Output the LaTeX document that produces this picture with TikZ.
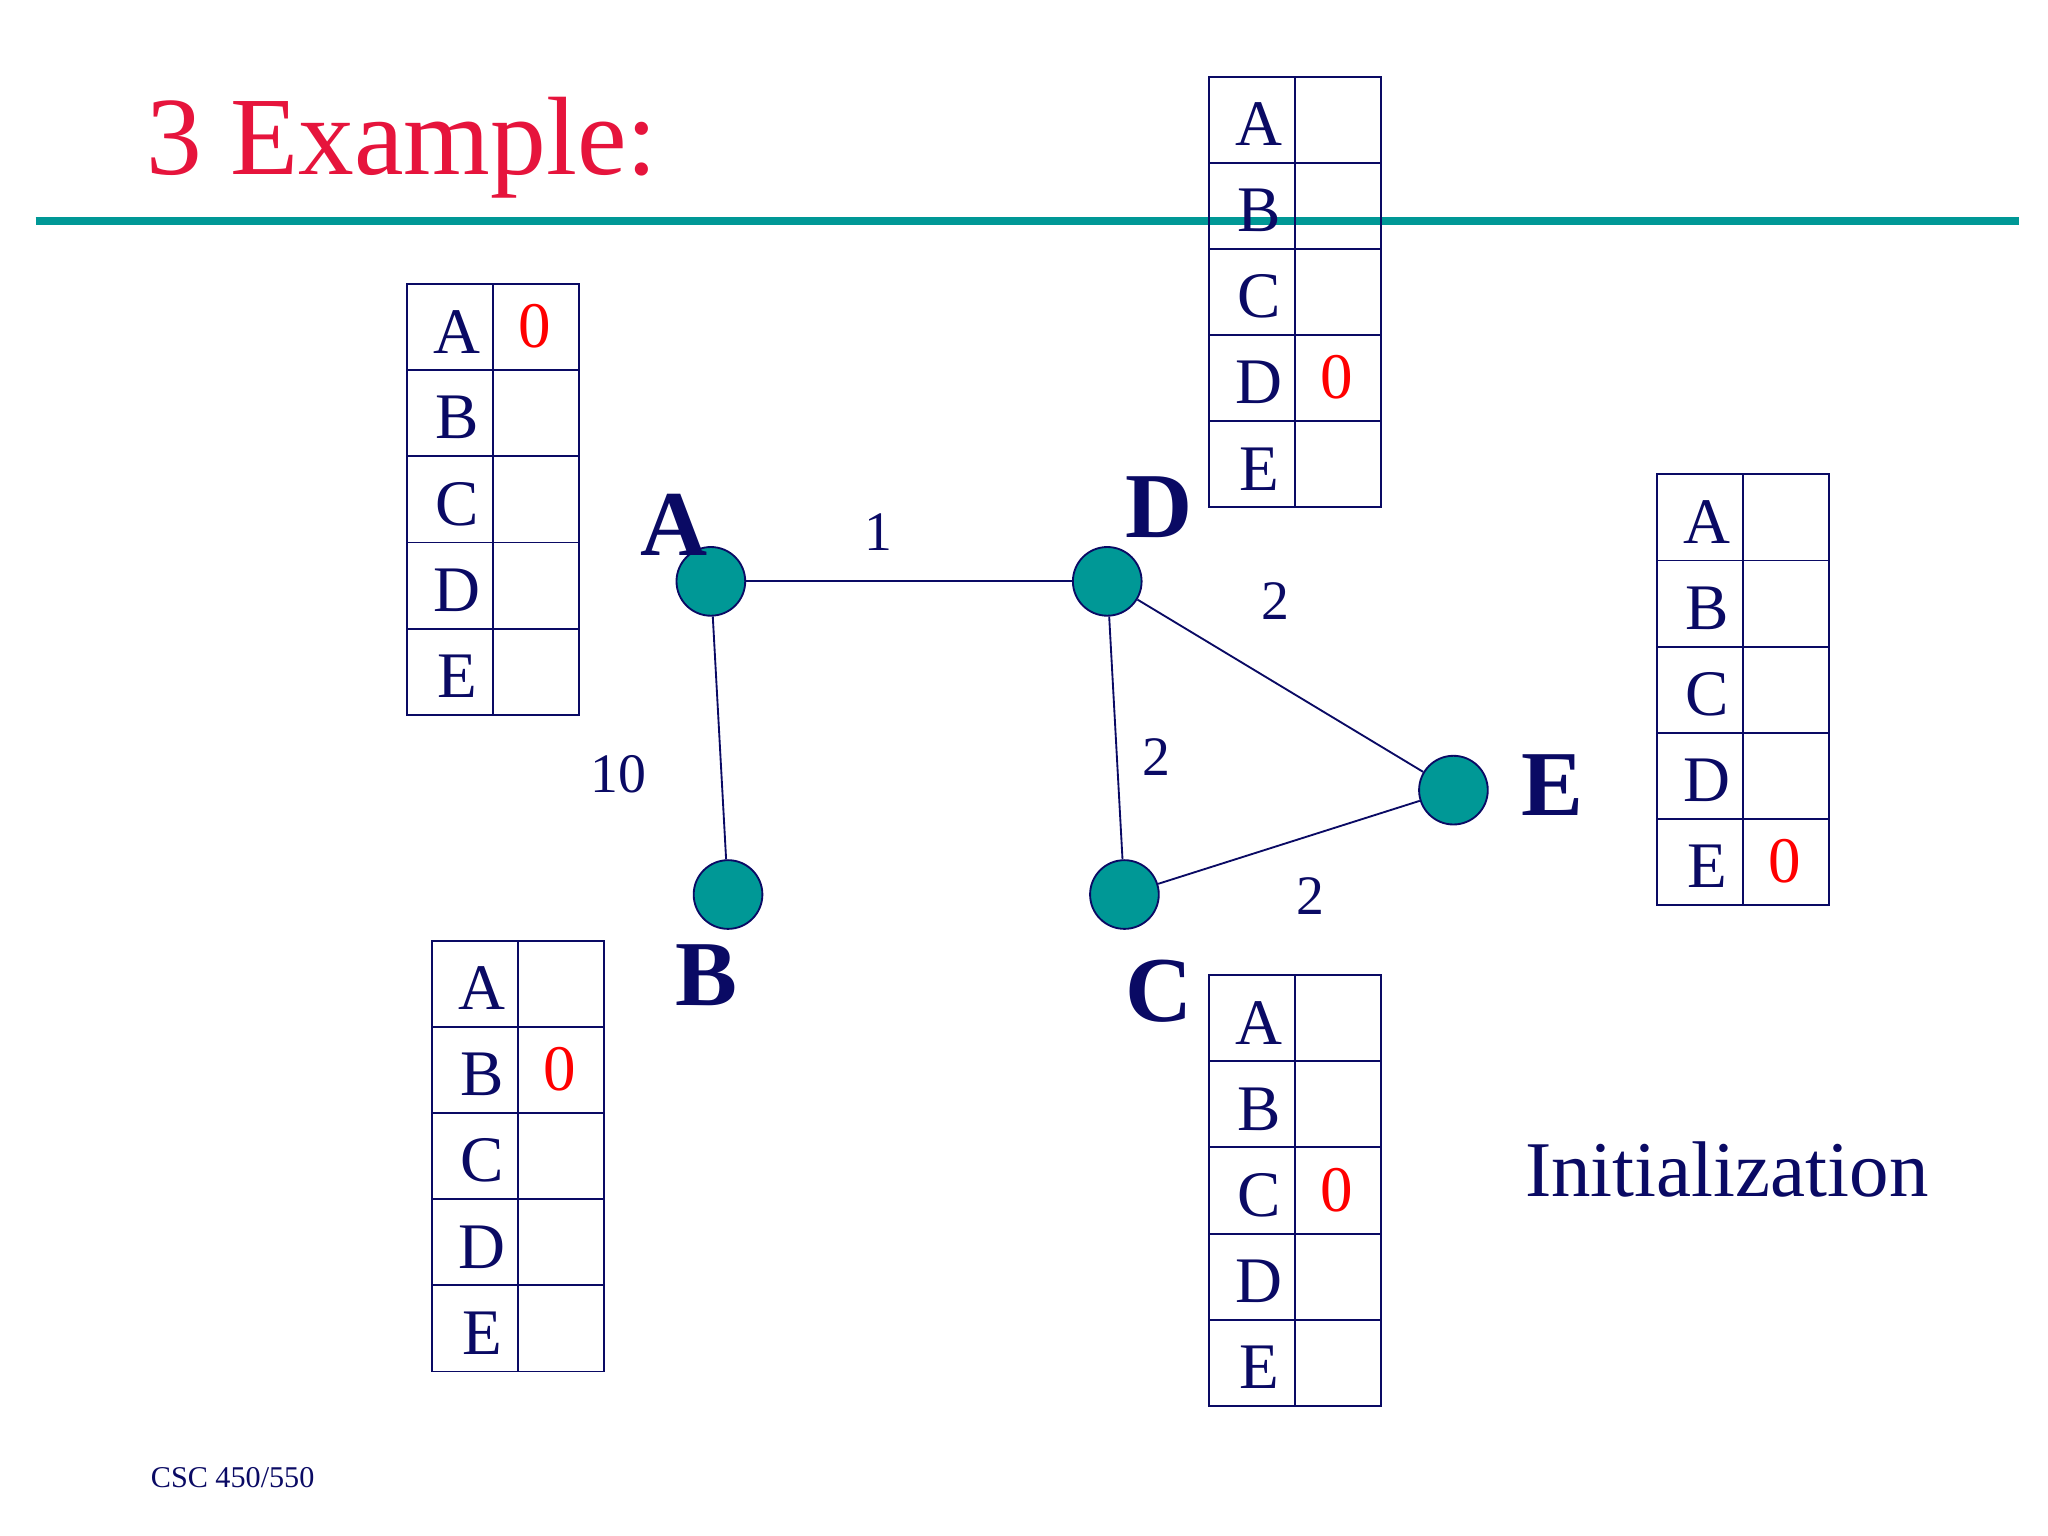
\documentclass[tikz,border=0pt]{standalone}
\usepackage{fontspec}
\setmainfont{Liberation Serif}
\definecolor{navy}{RGB}{10,10,100}
\definecolor{tealnode}{RGB}{0,152,150}
\definecolor{titlered}{RGB}{230,20,60}
\tikzset{
  vert/.style={circle,draw=navy,fill=tealnode,minimum size=52*0.02cm,inner sep=0pt,line width=0.8pt},
  vlabel/.style={text=navy,font=\fontsize{40}{40}\selectfont\bfseries},
  wlabel/.style={text=navy,font=\fontsize{24}{24}\selectfont},
  cell/.style={text=navy,font=\fontsize{28}{28}\selectfont},
  zero/.style={text=red,font=\fontsize{28}{28}\selectfont},
}
% routing table: name, left x, top y, row of the zero
\newcommand{\rtable}[4]{%
  \draw[navy,line width=0.8pt] (#2,#3) rectangle ++(130,326);
  \draw[navy,line width=0.8pt] (#2+65,#3) -- ++(0,326);
  \foreach \r [count=\i from 0] in {A,B,C,D,E}{
    \ifnum\i>0 \draw[navy,line width=0.8pt] (#2,#3+65.2*\i) -- ++(130,0);\fi
    \node[cell] (#1_\r) at (#2+38,#3+65.2*\i+36) {\r};
  }
  \node[zero] (#1_zero) at (#2+97,#3+65.2*#4+32) {0};
}
\begin{document}
\begin{tikzpicture}[x=0.02cm,y=-0.02cm]
\useasboundingbox (0,0) rectangle (1550,1162);
%%
\node[text=titlered,font=\fontsize{48}{48}\selectfont,anchor=west] (title) at (105,112) {3 Example:};
\draw[tealnode,line width=3.5pt] (27,167) -- (1528,167);
%
\rtable{tab_a}{308}{215}{0}
\rtable{tab_b}{327}{712}{1}
\rtable{tab_d}{915}{58}{3}
\rtable{tab_e}{1254}{359}{4}
\rtable{tab_c}{915}{738}{2}
%
\node[vert] (node_a) at (538,440) {};
\node[vert] (node_d) at (838,440) {};
\node[vert] (node_b) at (551,677) {};
\node[vert] (node_c) at (851,677) {};
\node[vert] (node_e) at (1100,598) {};
\draw[navy,line width=0.8pt] (node_a) -- (node_d);
\draw[navy,line width=0.8pt] (node_a) -- (node_b);
\draw[navy,line width=0.8pt] (node_d) -- (node_c);
\draw[navy,line width=0.8pt] (node_d) -- (node_e);
\draw[navy,line width=0.8pt] (node_c) -- (node_e);
%
\node[vlabel] (lab_a) at (510,397) {A};
\node[vlabel] (lab_d) at (877,384) {D};
\node[vlabel] (lab_b) at (535,738) {B};
\node[vlabel] (lab_c) at (877,750) {C};
\node[vlabel] (lab_e) at (1175,594) {E};
\node[wlabel] (w_ad) at (665,403) {1};
\node[wlabel] (w_ab) at (468,586) {10};
\node[wlabel] (w_de) at (965,455) {2};
\node[wlabel] (w_dc) at (875,573) {2};
\node[wlabel] (w_ce) at (992,678) {2};
%
\node[text=navy,font=\fontsize{34}{34}\selectfont,anchor=west] (init) at (1148,885) {Initialization};
\node[text=navy,font=\fontsize{13}{13}\selectfont,anchor=west] (foot) at (108,1118) {CSC 450/550};
\end{tikzpicture}
\end{document}
